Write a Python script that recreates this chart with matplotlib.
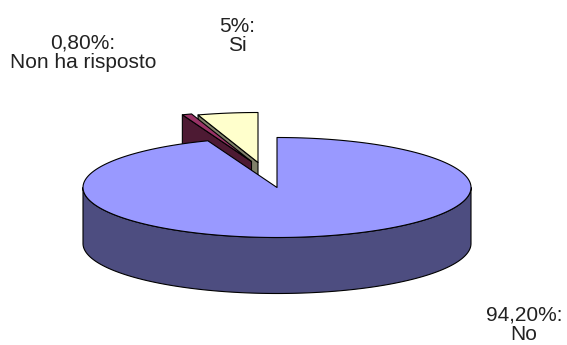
import numpy as np
import matplotlib.pyplot as plt
from matplotlib.patches import Polygon

labels = ["No", "Non ha risposto", "Si"]
values = [94.2, 0.8, 5.0]
pct_text = ["94,20%", "0,80%", "5%"]

top_colors = ["#9999FF", "#993366", "#FFFFCC"]
side_colors = ["#4D4D80", "#4D1A33", "#80806A"]

# pie geometry in pixels
cx, cy = 277, 187.5
rx, ry = 194, 50
depth = 56
# explode shift of each slice (pixels)
shift = {"No": (0, 0), "Non ha risposto": (-25.5, -26), "Si": (-19, -25)}


def pt(ang, r, ox, oy, dz=0):
    a = np.radians(ang)
    return (cx + ox + r * rx * np.cos(a), cy + oy - r * ry * np.sin(a) + dz)


def arc(lo, hi, ox, oy, dz=0):
    n = max(int(abs(hi - lo)), 2)
    return [pt(a, 1, ox, oy, dz) for a in np.linspace(lo, hi, n)]


fig = plt.figure(figsize=(5.67, 3.45), dpi=100)
ax = fig.add_axes([0, 0, 1, 1])
ax.set_xlim(0, 567)
ax.set_ylim(345, 0)
ax.axis("off")

# angles, clockwise from 12 o'clock
total = sum(values)
ranges = []
start = 90.0
for v in values:
    span = 360.0 * v / total
    ranges.append((start - span, start))
    start -= span

kw = dict(edgecolor="black", linewidth=0.8, joinstyle="round")
for i in [2, 1, 0]:
    lo, hi = ranges[i]
    ox, oy = shift[labels[i]]

    # radial walls facing the viewer
    for ang, nrm in [(lo, lo - 90), (hi, hi + 90)]:
        if np.sin(np.radians(nrm)) < -1e-6:
            c = pt(ang, 0, ox, oy)
            o = pt(ang, 1, ox, oy)
            poly = [c, o, (o[0], o[1] + depth), (c[0], c[1] + depth)]
            ax.add_patch(Polygon(poly, facecolor=side_colors[i], **kw))

    # outer front wall
    for k in range(-2, 2):
        a0 = max(lo, 180 + 360 * k)
        a1 = min(hi, 360 + 360 * k)
        if a1 > a0:
            poly = arc(a0, a1, ox, oy) + arc(a0, a1, ox, oy, depth)[::-1]
            ax.add_patch(Polygon(poly, facecolor=side_colors[i], **kw))

    # top face
    poly = [pt(0, 0, ox, oy)] + arc(lo, hi, ox, oy)
    ax.add_patch(Polygon(poly, facecolor=top_colors[i], **kw))

label_pos = {"No": (524, 325), "Non ha risposto": (83, 53), "Si": (237, 36)}
for lab, p in zip(labels, pct_text):
    x, y = label_pos[lab]
    ax.text(x, y, f"{p}:\n{lab}", ha="center", va="center",
            fontsize=15, family="Liberation Sans", color="#222222",
            linespacing=1.05)

fig.savefig("out.png", dpi=100, facecolor="white")
